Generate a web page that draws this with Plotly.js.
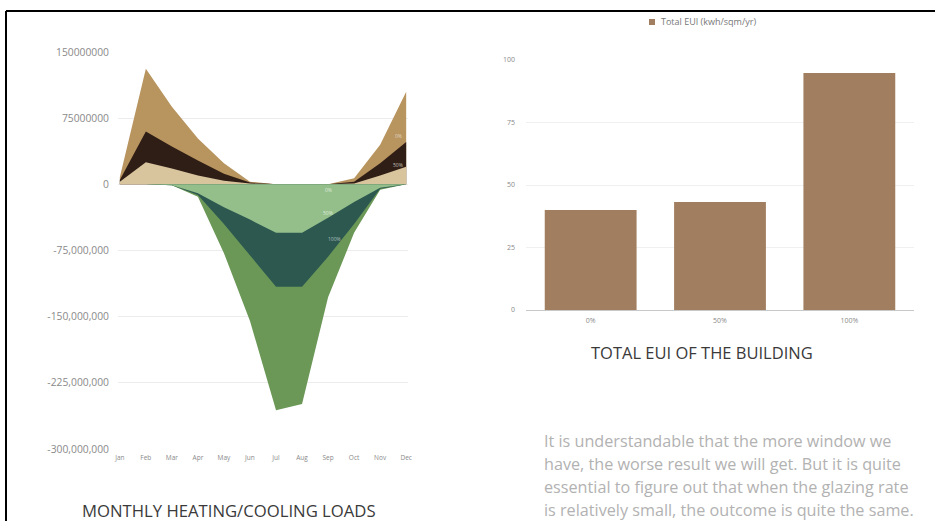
<!DOCTYPE html>
<html><head><meta charset="utf-8">
<script src="https://cdn.plot.ly/plotly-3.0.1.min.js"></script>
<style>html,body{margin:0;padding:0;background:#fff;}#chart{width:935px;height:521px;}</style>
</head><body><div id="chart"></div>
<script>
// ---- data ----
const months = ["Jan","Feb","Mar","Apr","May","Jun","Jul","Aug","Sep","Oct","Nov","Dec"];
const monthLabels = ["Jan","Feb","Mar","Apr","May","Jun","Jul","Aug","Sep","Oct","Nov","Dec"];
// heating loads (positive), per glazing rate
const heat100 = [8e6, 131e6, 88e6, 52e6, 24e6, 3e6, 0, 0, 0, 7e6, 45e6, 105e6];
const heat50  = [5e6, 60e6, 43e6, 27e6, 12e6, 2e6, 0, 0, 0, 3e6, 24e6, 48e6];
const heat0   = [3e6, 25e6, 18e6, 10e6, 4e6, 1e6, 0, 0, 0, 1e6, 10e6, 20e6];
// cooling loads (negative), per glazing rate
const cool100 = [0, 0, -1e6, -14e6, -78e6, -155e6, -256e6, -249e6, -128e6, -55e6, -6e6, 0];
const cool50  = [0, 0, -1e6, -12e6, -45e6, -81e6, -116e6, -116e6, -82e6, -45e6, -5e6, 0];
const cool0   = [0, 0, -1e6, -10e6, -26e6, -40e6, -55e6, -55e6, -38e6, -20e6, -4e6, 0];
const loadTickVals = [150e6, 75e6, 0, -75e6, -150e6, -225e6, -300e6];
const loadTickText = ["150000000","75000000","0","-75,000,000","-150,000,000","-225,000,000","-300,000,000"];

const glazing = ["0%","50%","100%"];
const totalEUI = [40, 43.2, 94.8];
const euiTickVals = [0, 25, 50, 75, 100];
const euiLegend = "Total EUI (kwh/sqm/yr)";

const paragraph = [
  "It is understandable that the more window we",
  "have, the worse result we will get. But it is quite",
  "essential to figure out that when the glazing rate",
  "is relatively small, the outcome is quite the same."
];

// ---- traces ----
function area(y, color, name){
  return {x: months, y: y, type:"scatter", mode:"lines", fill:"tozeroy",
    fillcolor: color, line:{color: color, width:0}, name: name,
    showlegend:false, hoverinfo:"skip", xaxis:"x", yaxis:"y"};
}
const traces = [
  area(heat100, "#b8945f", "Heating 100%"),
  area(heat50,  "#2f1e16", "Heating 50%"),
  area(heat0,   "#d8c59e", "Heating 0%"),
  area(cool100, "#6b9857", "Cooling 100%"),
  area(cool50,  "#2c5850", "Cooling 50%"),
  area(cool0,   "#94bf8b", "Cooling 0%"),
  {x: glazing, y: totalEUI, type:"bar", name: euiLegend, marker:{color:"#a17e5f"},
   xaxis:"x2", yaxis:"y2", showlegend:false, hoverinfo:"skip"}
];

const textFont = "Open Sans, Segoe UI, sans-serif";
const annotations = [
  {text:"MONTHLY HEATING/COOLING LOADS", xref:"paper", yref:"paper", x:229/935, y:1-510/521,
   showarrow:false, xanchor:"center", yanchor:"middle", font:{family:textFont, size:16.7, color:"#3a3a3a"}},
  {text:"TOTAL EUI OF THE BUILDING", xref:"paper", yref:"paper", x:702/935, y:1-352/521,
   showarrow:false, xanchor:"center", yanchor:"middle", font:{family:textFont, size:16.5, color:"#3a3a3a"}},
  {text: euiLegend, xref:"paper", yref:"paper", x:659/935, y:1-22/521,
   showarrow:false, xanchor:"left", yanchor:"middle", font:{family:textFont, size:9, color:"#777"}},
  // faint data labels
  {text:"0%", xref:"x", yref:"y", x:"Sep", y:-6e6, showarrow:false, font:{size:5, color:"rgba(255,255,255,0.7)"}},
  {text:"50%", xref:"x", yref:"y", x:"Sep", y:-33e6, showarrow:false, font:{size:5, color:"rgba(255,255,255,0.7)"}},
  {text:"100%", xref:"x", yref:"y", x:"Sep", y:-62e6, xshift:6, showarrow:false, font:{size:5, color:"rgba(255,255,255,0.6)"}},
  {text:"0%", xref:"x", yref:"y", x:"Dec", y:55e6, xshift:-8, showarrow:false, font:{size:5, color:"rgba(255,255,255,0.6)"}},
  {text:"50%", xref:"x", yref:"y", x:"Dec", y:22e6, xshift:-8, showarrow:false, font:{size:5, color:"rgba(255,255,255,0.7)"}}
];
paragraph.forEach((line, i) => {
  annotations.push({text: line, xref:"paper", yref:"paper", x:542/935, y:1-(441+i*23)/521,
    showarrow:false, xanchor:"left", yanchor:"middle", font:{family:textFont, size:16.2, color:"#b2b2b2"}});
});

const layout = {
  width:935, height:521, margin:{l:0,r:0,t:0,b:0},
  paper_bgcolor:"#fff", plot_bgcolor:"#fff",
  font:{family:textFont, color:"#888"},
  xaxis:{domain:[118/935, 408/935], type:"category", categoryarray: months,
    range:[-0.07, 11.07], tickvals: months, ticktext: monthLabels, showgrid:false, zeroline:false,
    showline:false, ticks:"", ticklabelstandoff:3, tickfont:{size:6.5, color:"#8a8a8a"}, fixedrange:true},
  yaxis:{domain:[1-449/521, 1-52/521], range:[-300e6, 150e6], tickvals: loadTickVals, ticktext: loadTickText,
    showgrid:true, gridcolor:"#ececec", gridwidth:1, zeroline:false, showline:false, ticks:"",
    ticklabelstandoff:8, tickfont:{size:10.3, color:"#8a8a8a"}, fixedrange:true},
  xaxis2:{domain:[526/935, 914/935], anchor:"y2", type:"category", showgrid:false, zeroline:false,
    showline:false, ticks:"", ticklabelstandoff:5, tickfont:{size:7, color:"#8a8a8a"}},
  yaxis2:{domain:[1-310/521, 1-60/521], anchor:"x2", range:[0,100], tickvals: euiTickVals,
    showgrid:true, gridcolor:"#f0f0f0", zeroline:true, zerolinecolor:"#c8c8c8", zerolinewidth:1,
    showline:false, ticks:"", ticklabelstandoff:10, tickfont:{size:7, color:"#8a8a8a"}},
  bargap:0.29,
  showlegend:false,
  annotations: annotations,
  shapes:[
    {type:"line", xref:"paper", yref:"paper", x0:6/935, x1:1, y0:1-11/521, y1:1-11/521, line:{color:"#000", width:2}},
    {type:"line", xref:"paper", yref:"paper", x0:6/935, x1:6/935, y0:1-11/521, y1:0, line:{color:"#000", width:2}},
    {type:"rect", xref:"paper", yref:"paper", x0:649/935, x1:655/935, y0:1-25/521, y1:1-19/521,
     line:{width:0}, fillcolor:"#a17e5f"}
  ]
};
Plotly.newPlot("chart", traces, layout, {displayModeBar:false, staticPlot:true});
</script></body></html>
